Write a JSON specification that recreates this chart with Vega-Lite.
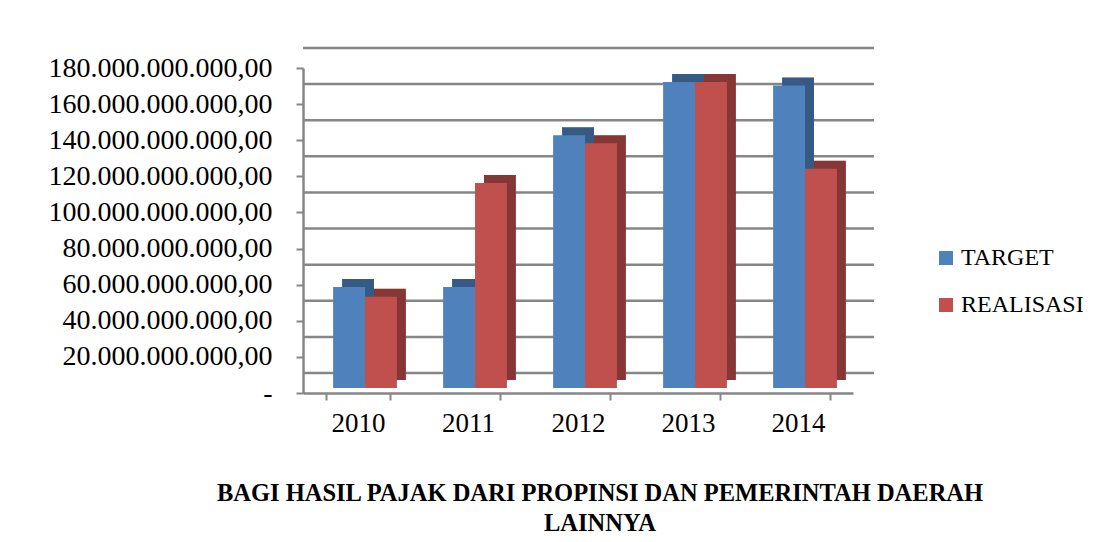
{
  "$schema": "https://vega.github.io/schema/vega-lite/v6.json",
  "width": 550,
  "height": 325,
  "autosize": {"type": "none"},
  "padding": {"left": 303, "top": 68, "right": 242, "bottom": 149},
  "background": "white",
  "config": {
    "locale": {"number": {"decimal": ",", "thousands": ".", "grouping": [3], "currency": ["Rp", ""]}},
    "view": {"stroke": null},
    "font": "Liberation Serif"
  },
  "title": {
    "text": ["BAGI HASIL PAJAK DARI PROPINSI DAN PEMERINTAH DAERAH", "LAINNYA"],
    "orient": "bottom",
    "anchor": "middle",
    "dx": 22,
    "offset": 46,
    "font": "Liberation Serif",
    "fontSize": 24.5,
    "fontWeight": "bold",
    "color": "#000000",
    "lineHeight": 30
  },
  "datasets": {
    "bars": [
      {"year": "2010", "series": "TARGET", "value": 56000000000},
      {"year": "2010", "series": "REALISASI", "value": 50500000000},
      {"year": "2011", "series": "TARGET", "value": 56000000000},
      {"year": "2011", "series": "REALISASI", "value": 113500000000},
      {"year": "2012", "series": "TARGET", "value": 140000000000},
      {"year": "2012", "series": "REALISASI", "value": 135500000000},
      {"year": "2013", "series": "TARGET", "value": 169500000000},
      {"year": "2013", "series": "REALISASI", "value": 169500000000},
      {"year": "2014", "series": "TARGET", "value": 167500000000},
      {"year": "2014", "series": "REALISASI", "value": 121500000000}
    ],
    "grid": [
      {"value": 0}, {"value": 20000000000}, {"value": 40000000000}, {"value": 60000000000}, {"value": 80000000000},
      {"value": 100000000000}, {"value": 120000000000}, {"value": 140000000000}, {"value": 160000000000}, {"value": 180000000000}
    ]
  },
  "encoding": {
    "y": {
      "field": "value", "type": "quantitative", "title": null,
      "scale": {"domain": [0, 180000000000], "nice": false},
      "axis": {
        "values": [0, 20000000000, 40000000000, 60000000000, 80000000000, 100000000000, 120000000000, 140000000000, 160000000000, 180000000000],
        "tickCount": 10,
        "format": ",.2f",
        "labelExpr": "datum.value === 0 ? '-' : datum.label",
        "grid": false,
        "domainColor": "#868686", "domainWidth": 2.5,
        "tickColor": "#868686", "tickWidth": 2, "tickSize": 7,
        "labelFontSize": 28, "labelColor": "#000000", "labelPadding": 24,
        "labelFont": "Liberation Serif", "labelLimit": 0, "labelOverlap": false
      }
    }
  },
  "resolve": {"scale": {"x": "independent", "xOffset": "independent"}, "axis": {"x": "independent"}},
  "layer": [
    {
      "data": {"name": "grid"},
      "mark": {"type": "rule", "stroke": "#868686", "strokeWidth": 2.5, "xOffset": 21, "yOffset": -20}
    },
    {
      "data": {"name": "bars"},
      "mark": {"type": "bar", "opacity": 0},
      "encoding": {
        "x": {
          "field": "year", "type": "nominal", "title": null,
          "scale": {"paddingInner": 0.42, "paddingOuter": 0.21, "align": 0.5},
          "axis": {
            "domainColor": "#868686", "domainWidth": 2.5,
            "tickColor": "#868686", "tickWidth": 2, "tickSize": 7, "tickBand": "extent",
            "labelFontSize": 27, "labelColor": "#000000", "labelPadding": 10, "labelAngle": 0,
            "labelFont": "Liberation Serif"
          }
        }
      }
    },
    {
      "data": {"name": "bars"},
      "mark": {"type": "bar", "yOffset": -13},
      "encoding": {
        "x": {"field": "year", "type": "nominal", "axis": null, "scale": {"paddingInner": 0.42, "paddingOuter": 0.21, "align": 0.846}},
        "xOffset": {"field": "series", "type": "nominal", "sort": ["TARGET", "REALISASI"]},
        "color": {"field": "series", "type": "nominal", "sort": ["TARGET", "REALISASI"]}
      }
    },
    {
      "data": {"name": "bars"},
      "mark": {"type": "bar", "yOffset": -13, "color": "#000000", "opacity": 0.3},
      "encoding": {
        "x": {"field": "year", "type": "nominal", "axis": null, "scale": {"paddingInner": 0.42, "paddingOuter": 0.21, "align": 0.846}},
        "xOffset": {"field": "series", "type": "nominal", "sort": ["TARGET", "REALISASI"]}
      }
    },
    {
      "data": {"name": "bars"},
      "mark": {"type": "bar", "yOffset": -5},
      "encoding": {
        "x": {"field": "year", "type": "nominal", "axis": null, "scale": {"paddingInner": 0.42, "paddingOuter": 0.21, "align": 0.652}},
        "xOffset": {"field": "series", "type": "nominal", "sort": ["TARGET", "REALISASI"]},
        "color": {
          "field": "series", "type": "nominal", "sort": ["TARGET", "REALISASI"],
          "scale": {"domain": ["TARGET", "REALISASI"], "range": ["#4f81bd", "#c0504d"]},
          "legend": {
            "title": null, "orient": "none", "legendX": 631, "legendY": 178,
            "symbolType": "square", "symbolSize": 196, "symbolStrokeWidth": 0, "symbolOpacity": 1,
            "labelFontSize": 24, "labelFont": "Liberation Serif", "labelColor": "#000000",
            "rowPadding": 23, "labelOffset": 3
          }
        }
      }
    }
  ]
}
